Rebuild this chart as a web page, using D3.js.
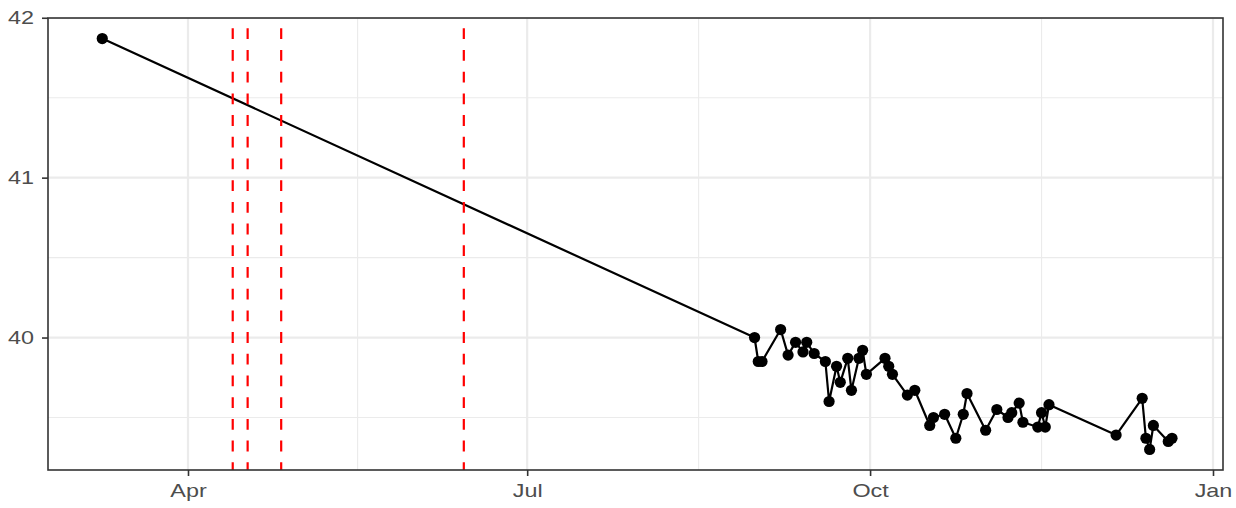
<!DOCTYPE html>
<html><head><meta charset="utf-8">
<script src="https://cdn.jsdelivr.net/npm/d3@7"></script>
<style>body{margin:0;background:#fff}svg{display:block}</style>
</head><body><svg id="c" width="1236" height="508"></svg>
<script>
// ---- data ----
const dates = ["2021-03-09","2021-08-31","2021-09-01","2021-09-02","2021-09-07","2021-09-09","2021-09-11","2021-09-13","2021-09-14","2021-09-16",
"2021-09-19","2021-09-20","2021-09-22","2021-09-23","2021-09-25","2021-09-26","2021-09-28","2021-09-29","2021-09-30",
"2021-10-05","2021-10-06","2021-10-07","2021-10-11","2021-10-13","2021-10-17","2021-10-18","2021-10-21","2021-10-24","2021-10-26","2021-10-27",
"2021-11-01","2021-11-04","2021-11-07","2021-11-08","2021-11-10","2021-11-11","2021-11-15","2021-11-16","2021-11-17","2021-11-18",
"2021-12-06","2021-12-13","2021-12-14","2021-12-15","2021-12-16","2021-12-20","2021-12-21"];
const values = [41.87,40.00,39.85,39.85,40.05,39.89,39.97,39.91,39.97,39.90,
39.85,39.60,39.82,39.72,39.87,39.67,39.87,39.92,39.77,
39.87,39.82,39.77,39.64,39.67,39.45,39.50,39.52,39.37,39.52,39.65,
39.42,39.55,39.50,39.53,39.59,39.47,39.44,39.53,39.44,39.58,
39.39,39.62,39.37,39.30,39.45,39.35,39.37];
const eventDates = ["2021-04-13","2021-04-17","2021-04-26","2021-06-14"];
const xTickDates = ["2021-04-01","2021-07-01","2021-10-01","2022-01-01"];
const xTickLabels = ["Apr","Jul","Oct","Jan"];
const xMinorDates = ["2021-05-16T12:00Z","2021-08-16T00:00Z","2021-11-16T00:00Z"];
const yTicks = [40,41,42];
const yMinor = [39.5,40.5,41.5];

// ---- layout ----
const P = {l:48, r:1223, t:18, b:470};
const svg = d3.select("#c");
const parse = s => new Date(s.length === 10 ? s + "T00:00:00Z" : s);
const data = dates.map((d,i)=>({date: parse(d), v: values[i]}));

const x = d3.scaleUtc().domain([parse(xTickDates[0]), parse(xTickDates[3])]).range([188, 1213]);
const [vmin, vmax] = d3.extent(values);
const pad = (vmax - vmin) * 0.05;
const y = d3.scaleLinear().domain([vmin - pad, vmax + pad]).range([P.b, P.t]);

svg.append("rect").attr("width",1236).attr("height",508).attr("fill","#fff");
svg.append("defs").append("clipPath").attr("id","clip").append("rect")
  .attr("x",P.l).attr("y",P.t).attr("width",P.r-P.l).attr("height",P.b-P.t);

const grid = svg.append("g").attr("clip-path","url(#clip)");
grid.selectAll(".ymin").data(yMinor).join("line")
  .attr("x1",P.l).attr("x2",P.r).attr("y1",d=>y(d)).attr("y2",d=>y(d))
  .attr("stroke","#EBEBEB").attr("stroke-width",1.1);
grid.selectAll(".xmin").data(xMinorDates.map(parse)).join("line")
  .attr("y1",P.t).attr("y2",P.b).attr("x1",d=>x(d)).attr("x2",d=>x(d))
  .attr("stroke","#EBEBEB").attr("stroke-width",1.1);
grid.selectAll(".ymaj").data(yTicks).join("line")
  .attr("x1",P.l).attr("x2",P.r).attr("y1",d=>y(d)).attr("y2",d=>y(d))
  .attr("stroke","#EBEBEB").attr("stroke-width",2.2);
grid.selectAll(".xmaj").data(xTickDates.map(parse)).join("line")
  .attr("y1",P.t).attr("y2",P.b).attr("x1",d=>x(d)).attr("x2",d=>x(d))
  .attr("stroke","#EBEBEB").attr("stroke-width",2.2);

const plot = svg.append("g").attr("clip-path","url(#clip)");
plot.append("path").datum(data)
  .attr("d", d3.line().x(d=>x(d.date)).y(d=>y(d.v)))
  .attr("fill","none").attr("stroke","#000").attr("stroke-width",2.2).attr("stroke-linejoin","round");
plot.selectAll("circle").data(data).join("circle")
  .attr("cx",d=>x(d.date)).attr("cy",d=>y(d.v)).attr("r",5.6).attr("fill","#000");
plot.selectAll(".ev").data(eventDates.map(parse)).join("line")
  .attr("x1",d=>x(d)).attr("x2",d=>x(d)).attr("y1",P.t).attr("y2",P.b)
  .attr("stroke","#FF0000").attr("stroke-width",2.2)
  .attr("stroke-dasharray","10.8,10.9").attr("stroke-dashoffset",11.4);

svg.append("rect").attr("x",P.l).attr("y",P.t).attr("width",P.r-P.l).attr("height",P.b-P.t)
  .attr("fill","none").attr("stroke","#333333").attr("stroke-width",1.6);

// axes
const sx = 1.3, fs = "18px";
const ya = svg.append("g").attr("transform",`translate(${P.l},0)`)
  .call(d3.axisLeft(y).tickValues(yTicks).tickSize(6).tickFormat(d3.format("d")));
ya.select(".domain").remove();
ya.selectAll(".tick line").attr("stroke","#333333").attr("stroke-width",1.6);
ya.selectAll(".tick text").attr("x",0).attr("transform",`translate(-14,0) scale(${sx},1)`)
  .attr("fill","#4D4D4D").style("font-family","'Liberation Sans', Arial, sans-serif").style("font-size",fs);

const xa = svg.append("g").attr("transform",`translate(0,${P.b})`)
  .call(d3.axisBottom(x).tickValues(xTickDates.map(parse)).tickSize(6).tickPadding(8)
    .tickFormat((d,i)=>xTickLabels[i]));
xa.select(".domain").remove();
xa.selectAll(".tick line").attr("stroke","#333333").attr("stroke-width",1.6);
xa.selectAll(".tick text").attr("transform",`scale(${sx},1)`)
  .attr("fill","#4D4D4D").style("font-family","'Liberation Sans', Arial, sans-serif").style("font-size",fs);
</script></body></html>
